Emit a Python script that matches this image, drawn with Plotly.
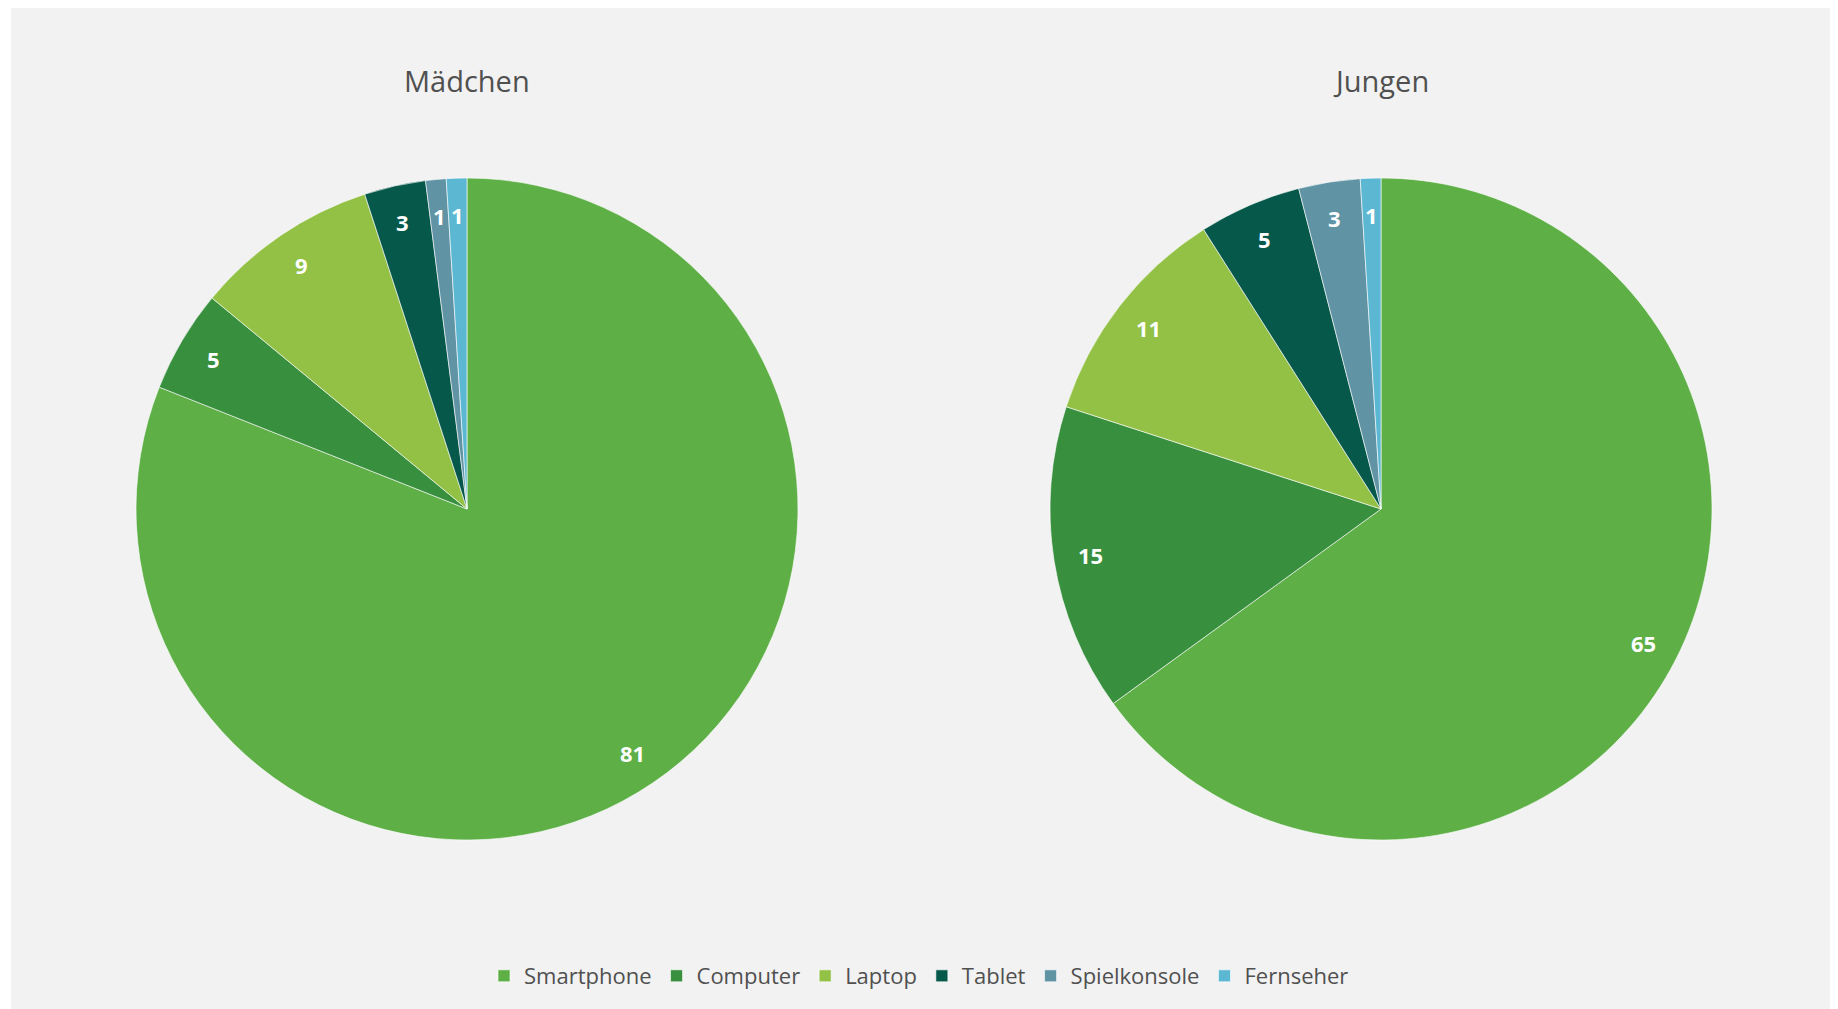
import math
import plotly.graph_objects as go

W, H = 1838, 1009

categories = ["Smartphone", "Computer", "Laptop", "Tablet", "Spielkonsole", "Fernseher"]
maedchen = [81, 5, 9, 3, 1, 1]
jungen = [65, 15, 11, 5, 3, 1]
titles = ["Mädchen", "Jungen"]
colors = ["#5daf46", "#388f3d", "#92c146", "#05584a", "#6094a5", "#5bb7d2"]

# pie geometry in pixels (centre x, centre y from top, radius)
R = 331
centers = [(467, 509), (1381, 509)]
LABEL_FRAC = 0.89

fig = go.Figure()
annotations = []
for i, (vals, title, (cx, cy)) in enumerate(zip([maedchen, jungen], titles, centers)):
    dom_x = [(cx - R) / W, (cx + R) / W]
    dom_y = [1 - (cy + R) / H, 1 - (cy - R) / H]
    fig.add_trace(go.Pie(
        labels=categories, values=vals, sort=False,
        direction="clockwise", rotation=0,
        marker=dict(colors=colors, line=dict(color="rgba(255,255,255,0.6)", width=1)),
        textinfo="none", hoverinfo="label+value",
        domain=dict(x=dom_x, y=dom_y), showlegend=(i == 0),
    ))
    total = sum(vals)
    cum = 0
    for v in vals:
        mid = (cum + v / 2) / total * 2 * math.pi
        cum += v
        px = cx + LABEL_FRAC * R * math.sin(mid)
        py = cy - LABEL_FRAC * R * math.cos(mid)
        annotations.append(dict(
            x=px / W, y=1 - py / H, xref="paper", yref="paper",
            text=f"<b>{v}</b>", showarrow=False,
            font=dict(family="Open Sans", size=22, color="white"),
            xanchor="center", yanchor="middle",
        ))
    annotations.append(dict(
        x=cx / W, y=1 - 80 / H, xref="paper", yref="paper",
        text=title, showarrow=False,
        font=dict(family="Open Sans", size=29, color="#505050"),
        xanchor="center", yanchor="middle",
    ))

fig.update_layout(
    width=W, height=H,
    margin=dict(l=0, r=0, t=0, b=0),
    paper_bgcolor="white",
    plot_bgcolor="#f2f2f2",
    shapes=[dict(type="rect", xref="paper", yref="paper",
                 x0=11 / W, x1=1830 / W, y0=0, y1=1 - 8 / H,
                 fillcolor="#f2f2f2", line=dict(width=0), layer="below")],
    annotations=annotations,
    legend=dict(orientation="h", x=0.5, xanchor="center", y=1 - 976 / H, yanchor="middle",
                font=dict(family="Open Sans", size=22, color="#505050"),
                bgcolor="rgba(0,0,0,0)", traceorder="normal"),
)

fig.write_html("out.html")
